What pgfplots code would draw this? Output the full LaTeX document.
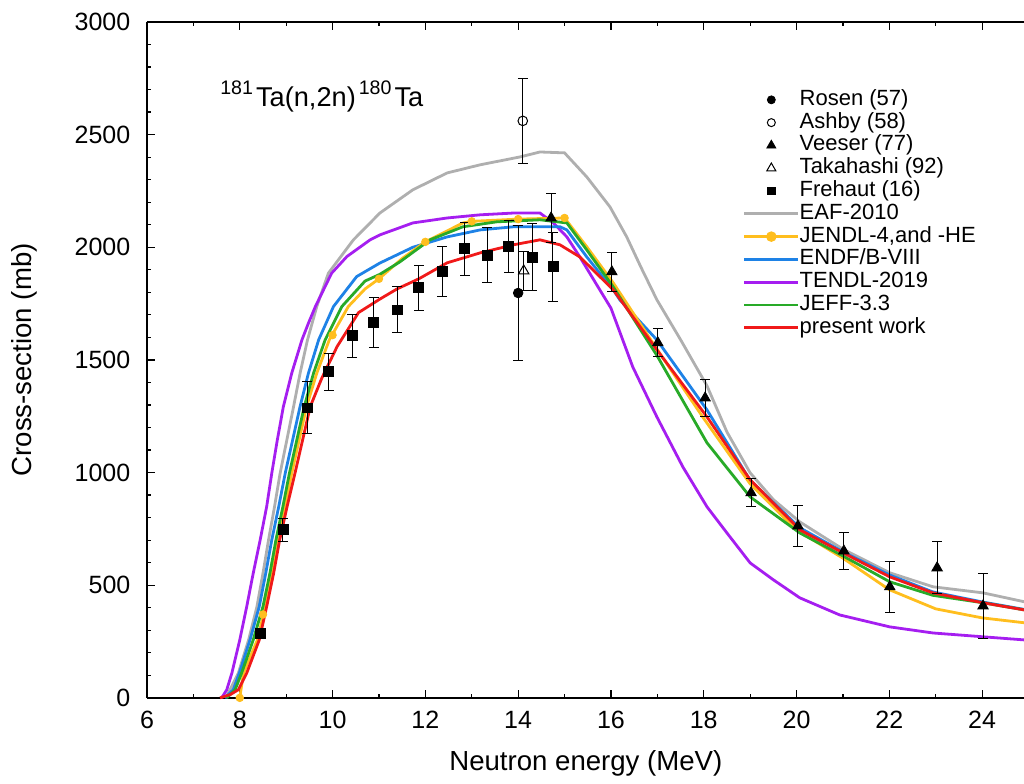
\documentclass[border=0pt]{standalone}
\usepackage{fontspec}
\setmainfont{Liberation Sans}
\usepackage{pgfplots}
\pgfplotsset{compat=1.18}
\usetikzlibrary{calc}
\definecolor{eafgray}{RGB}{175,175,175}
\definecolor{jendl}{RGB}{255,190,30}
\definecolor{endf}{RGB}{30,130,230}
\definecolor{tendl}{RGB}{165,30,240}
\definecolor{jeff}{RGB}{40,170,40}
\definecolor{present}{RGB}{240,25,25}
\pgfplotsset{expt/.style={forget plot, only marks, black,
  error bars/y dir=both, error bars/y explicit,
  error bars/error bar style={line width=0.5pt, black},
  error bars/error mark options={rotate=90, mark size=2.4pt, line width=0.5pt, black}}}
\begin{document}
\begin{tikzpicture}
\begin{axis}[name=ax, scale only axis, width=439pt, height=338pt,
  xmin=6, xmax=24.92, ymin=0, ymax=3000,
  xtick={6,8,...,24}, minor x tick num=1,
  ytick={0,500,...,3000}, minor y tick num=4,
  axis x line*=box, axis y line*=left,
  tick align=inside, major tick length=4pt, minor tick length=2pt,
  axis line style={line width=0.8pt, black},
  every tick/.style={black, line width=0.6pt},
  ticklabel style={font=\fontsize{12.5}{14}\selectfont},
  xticklabel style={yshift=-3pt},
  yticklabel style={xshift=-4.8pt},
  /pgf/number format/assume math mode=true,
  /pgf/number format/set thousands separator={},
  xlabel={Neutron energy (MeV)},
  ylabel={Cross-section (mb)},
  xlabel style={at={(axis description cs:0.5,-0.108)}, anchor=base, font=\fontsize{13.8}{16}\selectfont},
  ylabel style={at={(axis description cs:-0.14,0.5)}, anchor=center, font=\fontsize{13.8}{16}\selectfont},
  clip=false,
  legend cell align=left,
  legend image code/.code={\draw[mark repeat=2,mark phase=2,#1] plot coordinates {(0pt,0pt) (13.5pt,0pt) (27pt,0pt)};},
  legend style={at={(axis cs:18.845,2705)}, anchor=north west, draw=none, fill=none,
    inner sep=0pt, outer sep=0pt, font=\fontsize{11}{12}\selectfont, row sep=0pt,
    nodes={inner sep=0pt, text height=8.4pt, text depth=3pt},
    /tikz/every even column/.append style={column sep=7.5pt}},
]
% ---------- evaluated curves ----------
\addplot[forget plot, eafgray, line width=1.4pt, mark=none] coordinates {
(7.7,0) (7.97,110) (8.19,257) (8.37,405) (8.5,553) (8.62,701) (8.75,849) (8.87,997)
(9.16,1293) (9.3,1441) (9.46,1589) (9.66,1737) (9.91,1885) (10.45,2033) (11.02,2152)
(11.73,2255) (12.47,2330) (13.18,2366) (14.04,2401) (14.47,2423) (15.0,2419) (15.48,2312)
(15.98,2179) (16.34,2046) (16.65,1910) (16.99,1767) (17.5,1590) (18.07,1385) (18.5,1180)
(19.0,999) (19.5,880) (20.07,781) (21.0,660) (22.01,555) (22.94,493) (24.02,466) (24.92,426)};
\addplot[forget plot, tendl, line width=1.4pt, mark=none] coordinates {
(7.61,0) (7.72,36) (7.83,110) (8.0,257) (8.15,405) (8.29,553) (8.44,701) (8.58,849)
(8.69,997) (8.81,1145) (8.94,1293) (9.12,1441) (9.34,1589) (9.48,1663) (9.63,1737)
(9.98,1885) (10.31,1959) (10.81,2033) (11.02,2055) (11.73,2108) (12.47,2130) (13.18,2144)
(13.9,2152) (14.47,2152) (14.75,2110) (15.05,2046) (15.33,1957) (15.76,1811) (16.0,1730)
(16.47,1469) (16.99,1247) (17.55,1025) (18.07,848) (18.5,732) (19.0,599) (19.5,524)
(20.07,444) (20.93,368) (22.01,315) (22.94,288) (24.02,271) (24.92,257)};
\addplot[forget plot, endf, line width=1.4pt, mark=none] coordinates {
(7.68,0) (7.86,36) (7.99,110) (8.22,257) (8.42,405) (8.56,553) (8.69,701) (8.84,849)
(8.98,997) (9.3,1293) (9.48,1441) (9.7,1589) (10.02,1737) (10.52,1870) (11.02,1930)
(11.73,2000) (12.47,2046) (13.18,2077) (13.9,2091) (14.9,2091) (15.05,2077) (15.48,1957)
(16.05,1811) (16.19,1767) (16.99,1589) (18.07,1278) (19.0,965) (20.07,755) (21.0,648)
(22.01,545) (22.94,470) (24.02,425) (24.92,392)};
\addplot[forget plot, jendl, line width=1.4pt, mark=none] coordinates {
(8.0,0) (8.08,110) (8.38,257) (8.55,405) (8.7,553) (8.83,701) (8.98,849) (9.12,997)
(9.44,1293) (9.66,1441) (9.93,1589) (10.34,1737) (10.7,1815) (11.0,1860) (11.5,1950)
(12.0,2024) (12.81,2108) (13.0,2115) (14.0,2125) (15.0,2130) (15.48,2002) (16.05,1842)
(17.0,1545) (18.0,1240) (19.0,950) (20.0,745) (21.0,620) (22.0,480) (23.0,395) (24.0,355)
(24.92,333)};
\addplot[forget plot, only marks, mark=*, mark size=1.9pt, color=jendl] coordinates {
(8.0,0) (8.5,370) (10.0,1610) (11.0,1860) (12.0,2024) (13.0,2115) (14.0,2125) (15.0,2130)};
\addplot[forget plot, jeff, line width=1.4pt, mark=none] coordinates {
(7.72,0) (7.9,36) (8.04,110) (8.29,257) (8.5,405) (8.65,553) (8.78,701) (8.93,849)
(9.07,997) (9.39,1293) (9.59,1441) (9.84,1589) (10.2,1737) (10.7,1850) (11.02,1880)
(11.45,1935) (12.1,2033) (12.81,2091) (13.54,2113) (14.47,2122) (14.84,2113) (15.05,2108)
(15.48,1988) (16.05,1824) (16.99,1520) (18.07,1132) (19.0,892) (20.07,732) (21.0,630)
(22.01,515) (22.94,455) (24.02,422) (24.92,390)};
\addplot[forget plot, present, line width=1.4pt, mark=none] coordinates {
(7.575,0) (7.8,15) (7.97,36) (8.15,110) (8.42,257) (8.58,405) (8.73,553) (8.86,701)
(9.02,849) (9.19,997) (9.52,1293) (9.77,1420) (10.1,1560) (10.56,1710) (11.02,1770)
(11.39,1815) (11.86,1860) (12.47,1931) (13.18,1975) (13.9,2011) (14.47,2033) (14.9,2011)
(15.33,1957) (16.05,1811) (16.41,1709) (16.99,1545) (18.07,1247) (19.0,968) (20.07,746)
(21.0,644) (22.01,537) (22.94,466) (24.02,422) (24.92,390)};
% ---------- experimental data ----------
\addplot[expt, mark=*, mark size=2.4pt] table[x=x, y=y, y error=e] {
x y e
14.0 1797 300
};
\addplot[expt, mark=o, mark size=2.4pt, mark options={fill=white, line width=0.5pt}] table[x=x, y=y, y error=e] {
x y e
14.1 2561 190
};
\addplot[expt, mark=triangle, mark size=3pt, mark options={line width=0.5pt}] table[x=x, y=y, y error=e] {
x y e
14.12 1895 85
};
\addplot[expt, mark=triangle*, mark size=3pt] table[x=x, y=y, y error=e] {
x y e
14.71 2130 110
16.02 1891 87
17.01 1576 62
18.03 1331 80
19.02 910 62
20.03 763 93
21.02 652 84
22.01 493 113
23.03 577 115
24.02 408 144
};
\addplot[expt, mark=square*, mark size=2.5pt] table[x=x, y=y, y error=e] {
x y e
8.44 288 20
8.93 746 50
9.45 1287 115
9.92 1447 82
10.42 1607 95
10.89 1665 110
11.39 1722 102
11.86 1820 100
12.36 1891 111
12.85 1993 118
13.33 1966 122
13.8 2002 115
14.3 1957 150
14.75 1913 153
};
% ---------- legend ----------
\addlegendimage{only marks, mark=*, mark size=2pt, black}
\addlegendentry{Rosen (57)}
\addlegendimage{only marks, mark=o, mark size=2pt, black, mark options={line width=0.5pt}}
\addlegendentry{Ashby (58)}
\addlegendimage{only marks, mark=triangle*, mark size=2.6pt, black}
\addlegendentry{Veeser (77)}
\addlegendimage{only marks, mark=triangle, mark size=2.6pt, black, mark options={line width=0.5pt}}
\addlegendentry{Takahashi (92)}
\addlegendimage{only marks, mark=square*, mark size=1.9pt, black}
\addlegendentry{Frehaut (16)}
\addlegendimage{eafgray, line width=1.4pt, mark=none}
\addlegendentry{EAF-2010}
\addlegendimage{jendl, line width=1.4pt, mark=*, mark size=1.9pt}
\addlegendentry{JENDL-4,and -HE}
\addlegendimage{endf, line width=1.4pt, mark=none}
\addlegendentry{ENDF/B-VIII}
\addlegendimage{tendl, line width=1.4pt, mark=none}
\addlegendentry{TENDL-2019}
\addlegendimage{jeff, line width=1.4pt, mark=none}
\addlegendentry{JEFF-3.3}
\addlegendimage{present, line width=1.4pt, mark=none}
\addlegendentry{present work}
% ---------- reaction label ----------
\node[anchor=base west, inner sep=0pt, font=\fontsize{13.6}{15}\selectfont] at (axis cs:7.573,2623)
  {\raisebox{0.44em}{\fontsize{9.8}{10}\selectfont 181}\kern1.5pt Ta(n,2n)\kern1.5pt\raisebox{0.44em}{\fontsize{9.8}{10}\selectfont 180}\kern1.5pt Ta};
\end{axis}
\pgfresetboundingbox
\path[use as bounding box] ($(ax.south west)+(-73.5pt,-43pt)$) rectangle ($(ax.north east)+(-0.4pt,11pt)$);
\end{tikzpicture}
\end{document}
